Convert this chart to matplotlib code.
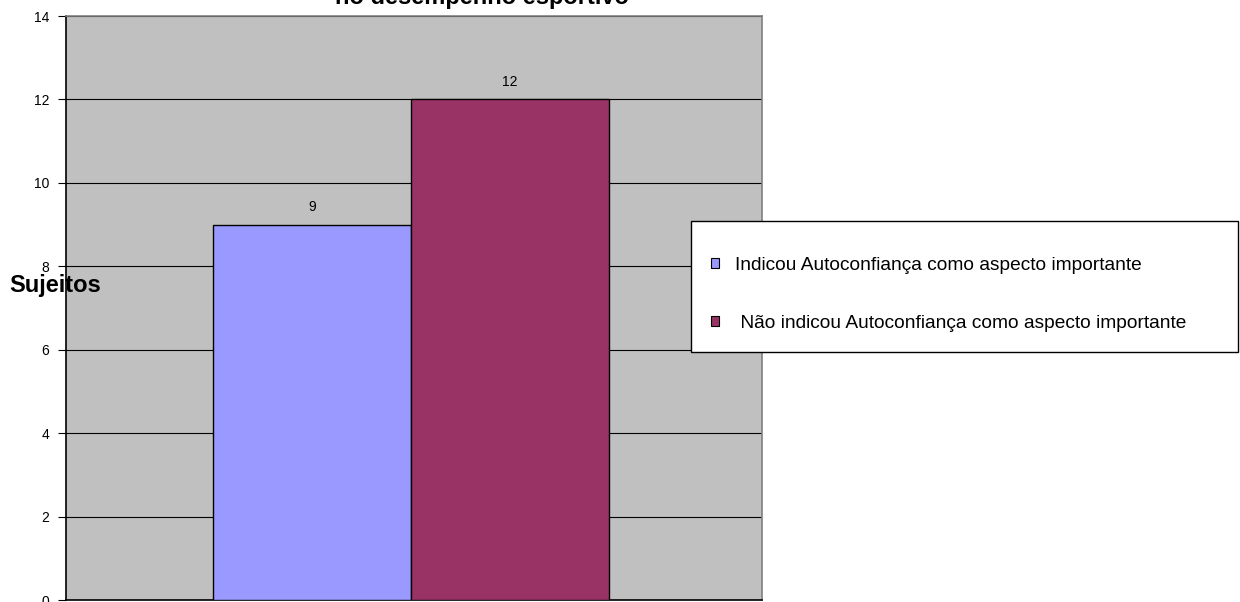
import matplotlib
matplotlib.use("Agg")
import matplotlib.pyplot as plt
from matplotlib.patches import Rectangle, Patch

plt.rcParams["font.family"] = ["Liberation Sans", "DejaVu Sans"]

series = ["Indicou Autoconfiança como aspecto importante",
          " Não indicou Autoconfiança como aspecto importante"]
values = [9, 12]
colors = ["#9999FF", "#993366"]
yticks = [0, 2, 4, 6, 8, 10, 12, 14]

fig = plt.figure(figsize=(12.4, 6.02), dpi=100)
ax = fig.add_axes([66 / 1240, 1 - 600 / 602, 696 / 1240, 584 / 602])
ax.set_facecolor("#C0C0C0")

# Excel-style layout: two bars in one category, gap width 150%
xs = [1.237, 2.233]
ax.bar(xs, values, width=0.996, color=colors, edgecolor="black", linewidth=1, zorder=3)
for x, v in zip(xs, values):
    ax.text(x, v + 0.25, str(v), ha="center", va="bottom", fontsize=10, zorder=4)

ax.set_xlim(0, 3.5)
ax.set_ylim(0, 14)
ax.set_yticks(yticks)
ax.tick_params(axis="y", labelsize=10, length=6, width=0.8, pad=6)
ax.set_xticks([])
ax.yaxis.grid(True, color="black", linewidth=0.8, zorder=0)
ax.set_axisbelow(True)
ax.spines["left"].set_color("black")
ax.spines["bottom"].set_color("black")
ax.spines["top"].set_color("#808080")
ax.spines["right"].set_color("#808080")
for s in ax.spines.values():
    s.set_linewidth(1.2)

fig.text(9 / 1240, 1 - 285 / 602, "Sujeitos", fontsize=17, fontweight="bold",
         ha="left", va="center")
# title is partly cut off at the top edge, as in the source
fig.text(482 / 1240, 1 - 4 / 602, "no desempenho esportivo", fontsize=17,
         fontweight="bold", ha="center", va="baseline")

# legend box
fig.patches.append(Rectangle((691 / 1240, 1 - 352 / 602), 547 / 1240, 131 / 602,
                             transform=fig.transFigure, facecolor="white",
                             edgecolor="black", linewidth=1, zorder=5))
handles = [Patch(facecolor=c, edgecolor="black", linewidth=0.8) for c in colors]
leg = fig.legend(handles, series, loc="upper left",
                 bbox_to_anchor=(711 / 1240, 1 - 257 / 602), frameon=False,
                 fontsize=13.8, handlelength=0.43, handleheight=0.43,
                 handletextpad=0.8, labelspacing=2.15, borderpad=0, borderaxespad=0)
leg.set_zorder(6)

fig.savefig("out.png", dpi=100)
